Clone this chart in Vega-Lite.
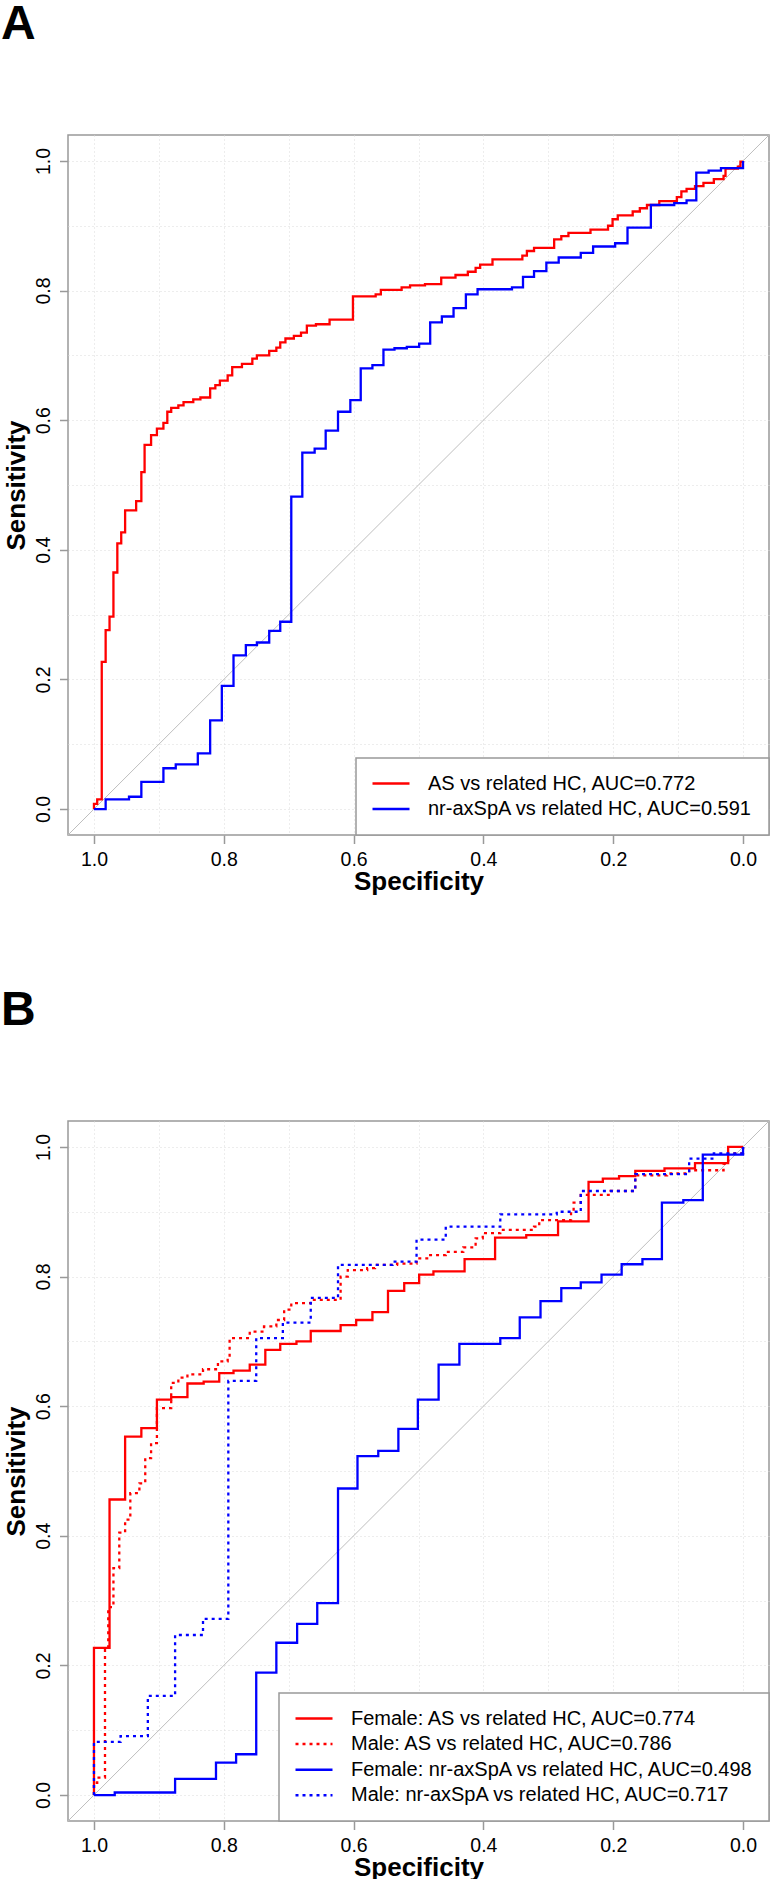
{
"$schema": "https://vega.github.io/schema/vega-lite/v6.json",
"padding": 0,
"autosize": {"type": "pad"},
"background": "white",
"spacing": 91,
"resolve": {"scale": {"color": "independent", "strokeDash": "independent"}, "legend": {"color": "independent", "strokeDash": "independent"}},
"config": {
  "font": "Liberation Sans",
  "view": {"stroke": "#999999", "strokeWidth": 1.5},
  "axis": {"grid": true, "gridColor": "#DADADA", "gridDash": [1, 3], "gridWidth": 1, "domain": false,
    "tickColor": "#999999", "tickWidth": 1.5, "tickSize": 8.5,
    "tickOpacity": {"condition": {"test": "round(datum.value*10) % 2 == 0", "value": 1}, "value": 0},
    "labelFont": "Liberation Sans", "labelFontSize": 19.5, "labelColor": "black", "labelOverlap": false, "labelFlush": false,
    "titleFont": "Liberation Sans", "titleFontSize": 26, "titleFontWeight": "bold", "titleColor": "black"},
  "legend": {"orient": "bottom-right", "offset": 0, "title": null, "strokeColor": "#999999", "strokeWidth": 1.5, "fillColor": "white",
    "padding": 15, "symbolType": "stroke", "symbolSize": 1369, "symbolStrokeWidth": 2.5, "labelFontSize": 20, "labelFont": "Liberation Sans",
    "labelColor": "black", "labelOffset": 17, "clipHeight": 21, "rowPadding": 4.6, "labelLimit": 600}
},
"datasets": {
  "diag": [{"spec": 1.04, "sens": -0.04}, {"spec": -0.04, "sens": 1.04}],
  "rocA": [
    {"series":"AS vs related HC, AUC=0.772","spec":1,"sens":0},{"series":"AS vs related HC, AUC=0.772","spec":1,"sens":0.008},{"series":"AS vs related HC, AUC=0.772","spec":0.995,"sens":0.008},{"series":"AS vs related HC, AUC=0.772","spec":0.995,"sens":0.015},{"series":"AS vs related HC, AUC=0.772","spec":0.988,"sens":0.015},{"series":"AS vs related HC, AUC=0.772","spec":0.988,"sens":0.227},{"series":"AS vs related HC, AUC=0.772","spec":0.982,"sens":0.227},{"series":"AS vs related HC, AUC=0.772","spec":0.982,"sens":0.276},{"series":"AS vs related HC, AUC=0.772","spec":0.976,"sens":0.276},{"series":"AS vs related HC, AUC=0.772","spec":0.976,"sens":0.297},{"series":"AS vs related HC, AUC=0.772","spec":0.970,"sens":0.297},{"series":"AS vs related HC, AUC=0.772","spec":0.970,"sens":0.365},{"series":"AS vs related HC, AUC=0.772","spec":0.964,"sens":0.365},{"series":"AS vs related HC, AUC=0.772","spec":0.964,"sens":0.41},{"series":"AS vs related HC, AUC=0.772","spec":0.958,"sens":0.41},{"series":"AS vs related HC, AUC=0.772","spec":0.958,"sens":0.427},{"series":"AS vs related HC, AUC=0.772","spec":0.952,"sens":0.427},{"series":"AS vs related HC, AUC=0.772","spec":0.952,"sens":0.461},{"series":"AS vs related HC, AUC=0.772","spec":0.935,"sens":0.461},{"series":"AS vs related HC, AUC=0.772","spec":0.935,"sens":0.475},{"series":"AS vs related HC, AUC=0.772","spec":0.927,"sens":0.475},{"series":"AS vs related HC, AUC=0.772","spec":0.927,"sens":0.52},{"series":"AS vs related HC, AUC=0.772","spec":0.922,"sens":0.52},{"series":"AS vs related HC, AUC=0.772","spec":0.922,"sens":0.562},{"series":"AS vs related HC, AUC=0.772","spec":0.912,"sens":0.562},{"series":"AS vs related HC, AUC=0.772","spec":0.912,"sens":0.577},{"series":"AS vs related HC, AUC=0.772","spec":0.903,"sens":0.577},{"series":"AS vs related HC, AUC=0.772","spec":0.903,"sens":0.587},{"series":"AS vs related HC, AUC=0.772","spec":0.893,"sens":0.587},{"series":"AS vs related HC, AUC=0.772","spec":0.893,"sens":0.596},{"series":"AS vs related HC, AUC=0.772","spec":0.887,"sens":0.596},{"series":"AS vs related HC, AUC=0.772","spec":0.887,"sens":0.613},{"series":"AS vs related HC, AUC=0.772","spec":0.881,"sens":0.613},{"series":"AS vs related HC, AUC=0.772","spec":0.881,"sens":0.619},{"series":"AS vs related HC, AUC=0.772","spec":0.870,"sens":0.619},{"series":"AS vs related HC, AUC=0.772","spec":0.870,"sens":0.623},{"series":"AS vs related HC, AUC=0.772","spec":0.862,"sens":0.623},{"series":"AS vs related HC, AUC=0.772","spec":0.862,"sens":0.628},{"series":"AS vs related HC, AUC=0.772","spec":0.847,"sens":0.628},{"series":"AS vs related HC, AUC=0.772","spec":0.847,"sens":0.632},{"series":"AS vs related HC, AUC=0.772","spec":0.836,"sens":0.632},{"series":"AS vs related HC, AUC=0.772","spec":0.836,"sens":0.635},{"series":"AS vs related HC, AUC=0.772","spec":0.821,"sens":0.635},{"series":"AS vs related HC, AUC=0.772","spec":0.821,"sens":0.649},{"series":"AS vs related HC, AUC=0.772","spec":0.813,"sens":0.649},{"series":"AS vs related HC, AUC=0.772","spec":0.813,"sens":0.654},{"series":"AS vs related HC, AUC=0.772","spec":0.806,"sens":0.654},{"series":"AS vs related HC, AUC=0.772","spec":0.806,"sens":0.661},{"series":"AS vs related HC, AUC=0.772","spec":0.794,"sens":0.661},{"series":"AS vs related HC, AUC=0.772","spec":0.794,"sens":0.669},{"series":"AS vs related HC, AUC=0.772","spec":0.787,"sens":0.669},{"series":"AS vs related HC, AUC=0.772","spec":0.787,"sens":0.682},{"series":"AS vs related HC, AUC=0.772","spec":0.772,"sens":0.682},{"series":"AS vs related HC, AUC=0.772","spec":0.772,"sens":0.687},{"series":"AS vs related HC, AUC=0.772","spec":0.756,"sens":0.687},{"series":"AS vs related HC, AUC=0.772","spec":0.756,"sens":0.695},{"series":"AS vs related HC, AUC=0.772","spec":0.749,"sens":0.695},{"series":"AS vs related HC, AUC=0.772","spec":0.749,"sens":0.70},{"series":"AS vs related HC, AUC=0.772","spec":0.730,"sens":0.70},{"series":"AS vs related HC, AUC=0.772","spec":0.730,"sens":0.707},{"series":"AS vs related HC, AUC=0.772","spec":0.719,"sens":0.707},{"series":"AS vs related HC, AUC=0.772","spec":0.719,"sens":0.712},{"series":"AS vs related HC, AUC=0.772","spec":0.713,"sens":0.712},{"series":"AS vs related HC, AUC=0.772","spec":0.713,"sens":0.72},{"series":"AS vs related HC, AUC=0.772","spec":0.705,"sens":0.72},{"series":"AS vs related HC, AUC=0.772","spec":0.705,"sens":0.726},{"series":"AS vs related HC, AUC=0.772","spec":0.692,"sens":0.726},{"series":"AS vs related HC, AUC=0.772","spec":0.692,"sens":0.73},{"series":"AS vs related HC, AUC=0.772","spec":0.681,"sens":0.73},{"series":"AS vs related HC, AUC=0.772","spec":0.681,"sens":0.735},{"series":"AS vs related HC, AUC=0.772","spec":0.672,"sens":0.735},{"series":"AS vs related HC, AUC=0.772","spec":0.672,"sens":0.746},{"series":"AS vs related HC, AUC=0.772","spec":0.658,"sens":0.746},{"series":"AS vs related HC, AUC=0.772","spec":0.658,"sens":0.748},{"series":"AS vs related HC, AUC=0.772","spec":0.637,"sens":0.748},{"series":"AS vs related HC, AUC=0.772","spec":0.637,"sens":0.755},{"series":"AS vs related HC, AUC=0.772","spec":0.601,"sens":0.755},{"series":"AS vs related HC, AUC=0.772","spec":0.601,"sens":0.791},{"series":"AS vs related HC, AUC=0.772","spec":0.566,"sens":0.791},{"series":"AS vs related HC, AUC=0.772","spec":0.566,"sens":0.794},{"series":"AS vs related HC, AUC=0.772","spec":0.558,"sens":0.794},{"series":"AS vs related HC, AUC=0.772","spec":0.558,"sens":0.801},{"series":"AS vs related HC, AUC=0.772","spec":0.526,"sens":0.801},{"series":"AS vs related HC, AUC=0.772","spec":0.526,"sens":0.805},{"series":"AS vs related HC, AUC=0.772","spec":0.513,"sens":0.805},{"series":"AS vs related HC, AUC=0.772","spec":0.513,"sens":0.808},{"series":"AS vs related HC, AUC=0.772","spec":0.490,"sens":0.808},{"series":"AS vs related HC, AUC=0.772","spec":0.490,"sens":0.81},{"series":"AS vs related HC, AUC=0.772","spec":0.465,"sens":0.81},{"series":"AS vs related HC, AUC=0.772","spec":0.465,"sens":0.82},{"series":"AS vs related HC, AUC=0.772","spec":0.443,"sens":0.82},{"series":"AS vs related HC, AUC=0.772","spec":0.443,"sens":0.824},{"series":"AS vs related HC, AUC=0.772","spec":0.424,"sens":0.824},{"series":"AS vs related HC, AUC=0.772","spec":0.424,"sens":0.829},{"series":"AS vs related HC, AUC=0.772","spec":0.412,"sens":0.829},{"series":"AS vs related HC, AUC=0.772","spec":0.412,"sens":0.835},{"series":"AS vs related HC, AUC=0.772","spec":0.405,"sens":0.835},{"series":"AS vs related HC, AUC=0.772","spec":0.405,"sens":0.84},{"series":"AS vs related HC, AUC=0.772","spec":0.386,"sens":0.84},{"series":"AS vs related HC, AUC=0.772","spec":0.386,"sens":0.848},{"series":"AS vs related HC, AUC=0.772","spec":0.340,"sens":0.848},{"series":"AS vs related HC, AUC=0.772","spec":0.340,"sens":0.854},{"series":"AS vs related HC, AUC=0.772","spec":0.333,"sens":0.854},{"series":"AS vs related HC, AUC=0.772","spec":0.333,"sens":0.861},{"series":"AS vs related HC, AUC=0.772","spec":0.322,"sens":0.861},{"series":"AS vs related HC, AUC=0.772","spec":0.322,"sens":0.866},{"series":"AS vs related HC, AUC=0.772","spec":0.291,"sens":0.866},{"series":"AS vs related HC, AUC=0.772","spec":0.291,"sens":0.879},{"series":"AS vs related HC, AUC=0.772","spec":0.280,"sens":0.879},{"series":"AS vs related HC, AUC=0.772","spec":0.280,"sens":0.884},{"series":"AS vs related HC, AUC=0.772","spec":0.269,"sens":0.884},{"series":"AS vs related HC, AUC=0.772","spec":0.269,"sens":0.889},{"series":"AS vs related HC, AUC=0.772","spec":0.235,"sens":0.889},{"series":"AS vs related HC, AUC=0.772","spec":0.235,"sens":0.894},{"series":"AS vs related HC, AUC=0.772","spec":0.208,"sens":0.894},{"series":"AS vs related HC, AUC=0.772","spec":0.208,"sens":0.90},{"series":"AS vs related HC, AUC=0.772","spec":0.201,"sens":0.90},{"series":"AS vs related HC, AUC=0.772","spec":0.201,"sens":0.91},{"series":"AS vs related HC, AUC=0.772","spec":0.193,"sens":0.91},{"series":"AS vs related HC, AUC=0.772","spec":0.193,"sens":0.916},{"series":"AS vs related HC, AUC=0.772","spec":0.170,"sens":0.916},{"series":"AS vs related HC, AUC=0.772","spec":0.170,"sens":0.922},{"series":"AS vs related HC, AUC=0.772","spec":0.159,"sens":0.922},{"series":"AS vs related HC, AUC=0.772","spec":0.159,"sens":0.927},{"series":"AS vs related HC, AUC=0.772","spec":0.148,"sens":0.927},{"series":"AS vs related HC, AUC=0.772","spec":0.148,"sens":0.932},{"series":"AS vs related HC, AUC=0.772","spec":0.129,"sens":0.932},{"series":"AS vs related HC, AUC=0.772","spec":0.129,"sens":0.938},{"series":"AS vs related HC, AUC=0.772","spec":0.102,"sens":0.938},{"series":"AS vs related HC, AUC=0.772","spec":0.102,"sens":0.944},{"series":"AS vs related HC, AUC=0.772","spec":0.095,"sens":0.944},{"series":"AS vs related HC, AUC=0.772","spec":0.095,"sens":0.953},{"series":"AS vs related HC, AUC=0.772","spec":0.087,"sens":0.953},{"series":"AS vs related HC, AUC=0.772","spec":0.087,"sens":0.957},{"series":"AS vs related HC, AUC=0.772","spec":0.074,"sens":0.957},{"series":"AS vs related HC, AUC=0.772","spec":0.074,"sens":0.961},{"series":"AS vs related HC, AUC=0.772","spec":0.061,"sens":0.961},{"series":"AS vs related HC, AUC=0.772","spec":0.061,"sens":0.966},{"series":"AS vs related HC, AUC=0.772","spec":0.045,"sens":0.966},{"series":"AS vs related HC, AUC=0.772","spec":0.045,"sens":0.972},{"series":"AS vs related HC, AUC=0.772","spec":0.030,"sens":0.972},{"series":"AS vs related HC, AUC=0.772","spec":0.030,"sens":0.977},{"series":"AS vs related HC, AUC=0.772","spec":0.027,"sens":0.977},{"series":"AS vs related HC, AUC=0.772","spec":0.027,"sens":0.988},{"series":"AS vs related HC, AUC=0.772","spec":0.008,"sens":0.988},{"series":"AS vs related HC, AUC=0.772","spec":0.008,"sens":0.991},{"series":"AS vs related HC, AUC=0.772","spec":0.004,"sens":0.991},{"series":"AS vs related HC, AUC=0.772","spec":0.004,"sens":0.999},{"series":"AS vs related HC, AUC=0.772","spec":0,"sens":0.999},{"series":"AS vs related HC, AUC=0.772","spec":0,"sens":1},
    {"series":"nr-axSpA vs related HC, AUC=0.591","spec":1,"sens":0},{"series":"nr-axSpA vs related HC, AUC=0.591","spec":0.982,"sens":0},{"series":"nr-axSpA vs related HC, AUC=0.591","spec":0.982,"sens":0.015},{"series":"nr-axSpA vs related HC, AUC=0.591","spec":0.946,"sens":0.015},{"series":"nr-axSpA vs related HC, AUC=0.591","spec":0.946,"sens":0.019},{"series":"nr-axSpA vs related HC, AUC=0.591","spec":0.927,"sens":0.019},{"series":"nr-axSpA vs related HC, AUC=0.591","spec":0.927,"sens":0.042},{"series":"nr-axSpA vs related HC, AUC=0.591","spec":0.893,"sens":0.042},{"series":"nr-axSpA vs related HC, AUC=0.591","spec":0.893,"sens":0.063},{"series":"nr-axSpA vs related HC, AUC=0.591","spec":0.874,"sens":0.063},{"series":"nr-axSpA vs related HC, AUC=0.591","spec":0.874,"sens":0.069},{"series":"nr-axSpA vs related HC, AUC=0.591","spec":0.84,"sens":0.069},{"series":"nr-axSpA vs related HC, AUC=0.591","spec":0.84,"sens":0.086},{"series":"nr-axSpA vs related HC, AUC=0.591","spec":0.821,"sens":0.086},{"series":"nr-axSpA vs related HC, AUC=0.591","spec":0.821,"sens":0.137},{"series":"nr-axSpA vs related HC, AUC=0.591","spec":0.803,"sens":0.137},{"series":"nr-axSpA vs related HC, AUC=0.591","spec":0.803,"sens":0.19},{"series":"nr-axSpA vs related HC, AUC=0.591","spec":0.785,"sens":0.19},{"series":"nr-axSpA vs related HC, AUC=0.591","spec":0.785,"sens":0.237},{"series":"nr-axSpA vs related HC, AUC=0.591","spec":0.766,"sens":0.237},{"series":"nr-axSpA vs related HC, AUC=0.591","spec":0.766,"sens":0.253},{"series":"nr-axSpA vs related HC, AUC=0.591","spec":0.749,"sens":0.253},{"series":"nr-axSpA vs related HC, AUC=0.591","spec":0.749,"sens":0.257},{"series":"nr-axSpA vs related HC, AUC=0.591","spec":0.73,"sens":0.257},{"series":"nr-axSpA vs related HC, AUC=0.591","spec":0.73,"sens":0.275},{"series":"nr-axSpA vs related HC, AUC=0.591","spec":0.713,"sens":0.275},{"series":"nr-axSpA vs related HC, AUC=0.591","spec":0.713,"sens":0.289},{"series":"nr-axSpA vs related HC, AUC=0.591","spec":0.696,"sens":0.289},{"series":"nr-axSpA vs related HC, AUC=0.591","spec":0.696,"sens":0.482},{"series":"nr-axSpA vs related HC, AUC=0.591","spec":0.679,"sens":0.482},{"series":"nr-axSpA vs related HC, AUC=0.591","spec":0.679,"sens":0.55},{"series":"nr-axSpA vs related HC, AUC=0.591","spec":0.66,"sens":0.55},{"series":"nr-axSpA vs related HC, AUC=0.591","spec":0.66,"sens":0.556},{"series":"nr-axSpA vs related HC, AUC=0.591","spec":0.643,"sens":0.556},{"series":"nr-axSpA vs related HC, AUC=0.591","spec":0.643,"sens":0.584},{"series":"nr-axSpA vs related HC, AUC=0.591","spec":0.624,"sens":0.584},{"series":"nr-axSpA vs related HC, AUC=0.591","spec":0.624,"sens":0.613},{"series":"nr-axSpA vs related HC, AUC=0.591","spec":0.605,"sens":0.613},{"series":"nr-axSpA vs related HC, AUC=0.591","spec":0.605,"sens":0.631},{"series":"nr-axSpA vs related HC, AUC=0.591","spec":0.589,"sens":0.631},{"series":"nr-axSpA vs related HC, AUC=0.591","spec":0.589,"sens":0.68},{"series":"nr-axSpA vs related HC, AUC=0.591","spec":0.571,"sens":0.68},{"series":"nr-axSpA vs related HC, AUC=0.591","spec":0.571,"sens":0.685},{"series":"nr-axSpA vs related HC, AUC=0.591","spec":0.554,"sens":0.685},{"series":"nr-axSpA vs related HC, AUC=0.591","spec":0.554,"sens":0.709},{"series":"nr-axSpA vs related HC, AUC=0.591","spec":0.537,"sens":0.709},{"series":"nr-axSpA vs related HC, AUC=0.591","spec":0.537,"sens":0.711},{"series":"nr-axSpA vs related HC, AUC=0.591","spec":0.518,"sens":0.711},{"series":"nr-axSpA vs related HC, AUC=0.591","spec":0.518,"sens":0.713},{"series":"nr-axSpA vs related HC, AUC=0.591","spec":0.499,"sens":0.713},{"series":"nr-axSpA vs related HC, AUC=0.591","spec":0.499,"sens":0.718},{"series":"nr-axSpA vs related HC, AUC=0.591","spec":0.482,"sens":0.718},{"series":"nr-axSpA vs related HC, AUC=0.591","spec":0.482,"sens":0.751},{"series":"nr-axSpA vs related HC, AUC=0.591","spec":0.464,"sens":0.751},{"series":"nr-axSpA vs related HC, AUC=0.591","spec":0.464,"sens":0.76},{"series":"nr-axSpA vs related HC, AUC=0.591","spec":0.446,"sens":0.76},{"series":"nr-axSpA vs related HC, AUC=0.591","spec":0.446,"sens":0.773},{"series":"nr-axSpA vs related HC, AUC=0.591","spec":0.427,"sens":0.773},{"series":"nr-axSpA vs related HC, AUC=0.591","spec":0.427,"sens":0.794},{"series":"nr-axSpA vs related HC, AUC=0.591","spec":0.409,"sens":0.794},{"series":"nr-axSpA vs related HC, AUC=0.591","spec":0.409,"sens":0.802},{"series":"nr-axSpA vs related HC, AUC=0.591","spec":0.356,"sens":0.802},{"series":"nr-axSpA vs related HC, AUC=0.591","spec":0.356,"sens":0.805},{"series":"nr-axSpA vs related HC, AUC=0.591","spec":0.339,"sens":0.805},{"series":"nr-axSpA vs related HC, AUC=0.591","spec":0.339,"sens":0.821},{"series":"nr-axSpA vs related HC, AUC=0.591","spec":0.322,"sens":0.821},{"series":"nr-axSpA vs related HC, AUC=0.591","spec":0.322,"sens":0.83},{"series":"nr-axSpA vs related HC, AUC=0.591","spec":0.303,"sens":0.83},{"series":"nr-axSpA vs related HC, AUC=0.591","spec":0.303,"sens":0.843},{"series":"nr-axSpA vs related HC, AUC=0.591","spec":0.284,"sens":0.843},{"series":"nr-axSpA vs related HC, AUC=0.591","spec":0.284,"sens":0.851},{"series":"nr-axSpA vs related HC, AUC=0.591","spec":0.25,"sens":0.851},{"series":"nr-axSpA vs related HC, AUC=0.591","spec":0.25,"sens":0.858},{"series":"nr-axSpA vs related HC, AUC=0.591","spec":0.231,"sens":0.858},{"series":"nr-axSpA vs related HC, AUC=0.591","spec":0.231,"sens":0.868},{"series":"nr-axSpA vs related HC, AUC=0.591","spec":0.197,"sens":0.868},{"series":"nr-axSpA vs related HC, AUC=0.591","spec":0.197,"sens":0.873},{"series":"nr-axSpA vs related HC, AUC=0.591","spec":0.178,"sens":0.873},{"series":"nr-axSpA vs related HC, AUC=0.591","spec":0.178,"sens":0.897},{"series":"nr-axSpA vs related HC, AUC=0.591","spec":0.142,"sens":0.897},{"series":"nr-axSpA vs related HC, AUC=0.591","spec":0.142,"sens":0.932},{"series":"nr-axSpA vs related HC, AUC=0.591","spec":0.106,"sens":0.932},{"series":"nr-axSpA vs related HC, AUC=0.591","spec":0.106,"sens":0.935},{"series":"nr-axSpA vs related HC, AUC=0.591","spec":0.087,"sens":0.935},{"series":"nr-axSpA vs related HC, AUC=0.591","spec":0.087,"sens":0.939},{"series":"nr-axSpA vs related HC, AUC=0.591","spec":0.072,"sens":0.939},{"series":"nr-axSpA vs related HC, AUC=0.591","spec":0.072,"sens":0.982},{"series":"nr-axSpA vs related HC, AUC=0.591","spec":0.053,"sens":0.982},{"series":"nr-axSpA vs related HC, AUC=0.591","spec":0.053,"sens":0.985},{"series":"nr-axSpA vs related HC, AUC=0.591","spec":0.034,"sens":0.985},{"series":"nr-axSpA vs related HC, AUC=0.591","spec":0.034,"sens":0.989},{"series":"nr-axSpA vs related HC, AUC=0.591","spec":0,"sens":0.989},{"series":"nr-axSpA vs related HC, AUC=0.591","spec":0,"sens":1}
  ],
  "rocB": [
    {"series":"Female: AS vs related HC, AUC=0.774","spec":1,"sens":0},{"series":"Female: AS vs related HC, AUC=0.774","spec":1,"sens":0.227},{"series":"Female: AS vs related HC, AUC=0.774","spec":0.976,"sens":0.227},{"series":"Female: AS vs related HC, AUC=0.774","spec":0.976,"sens":0.456},{"series":"Female: AS vs related HC, AUC=0.774","spec":0.952,"sens":0.456},{"series":"Female: AS vs related HC, AUC=0.774","spec":0.952,"sens":0.553},{"series":"Female: AS vs related HC, AUC=0.774","spec":0.927,"sens":0.553},{"series":"Female: AS vs related HC, AUC=0.774","spec":0.927,"sens":0.566},{"series":"Female: AS vs related HC, AUC=0.774","spec":0.903,"sens":0.566},{"series":"Female: AS vs related HC, AUC=0.774","spec":0.903,"sens":0.61},{"series":"Female: AS vs related HC, AUC=0.774","spec":0.881,"sens":0.61},{"series":"Female: AS vs related HC, AUC=0.774","spec":0.881,"sens":0.614},{"series":"Female: AS vs related HC, AUC=0.774","spec":0.856,"sens":0.614},{"series":"Female: AS vs related HC, AUC=0.774","spec":0.856,"sens":0.635},{"series":"Female: AS vs related HC, AUC=0.774","spec":0.831,"sens":0.635},{"series":"Female: AS vs related HC, AUC=0.774","spec":0.831,"sens":0.638},{"series":"Female: AS vs related HC, AUC=0.774","spec":0.807,"sens":0.638},{"series":"Female: AS vs related HC, AUC=0.774","spec":0.807,"sens":0.651},{"series":"Female: AS vs related HC, AUC=0.774","spec":0.785,"sens":0.651},{"series":"Female: AS vs related HC, AUC=0.774","spec":0.785,"sens":0.655},{"series":"Female: AS vs related HC, AUC=0.774","spec":0.76,"sens":0.655},{"series":"Female: AS vs related HC, AUC=0.774","spec":0.76,"sens":0.664},{"series":"Female: AS vs related HC, AUC=0.774","spec":0.736,"sens":0.664},{"series":"Female: AS vs related HC, AUC=0.774","spec":0.736,"sens":0.687},{"series":"Female: AS vs related HC, AUC=0.774","spec":0.713,"sens":0.687},{"series":"Female: AS vs related HC, AUC=0.774","spec":0.713,"sens":0.696},{"series":"Female: AS vs related HC, AUC=0.774","spec":0.688,"sens":0.696},{"series":"Female: AS vs related HC, AUC=0.774","spec":0.688,"sens":0.70},{"series":"Female: AS vs related HC, AUC=0.774","spec":0.666,"sens":0.70},{"series":"Female: AS vs related HC, AUC=0.774","spec":0.666,"sens":0.716},{"series":"Female: AS vs related HC, AUC=0.774","spec":0.62,"sens":0.716},{"series":"Female: AS vs related HC, AUC=0.774","spec":0.62,"sens":0.725},{"series":"Female: AS vs related HC, AUC=0.774","spec":0.596,"sens":0.725},{"series":"Female: AS vs related HC, AUC=0.774","spec":0.596,"sens":0.733},{"series":"Female: AS vs related HC, AUC=0.774","spec":0.571,"sens":0.733},{"series":"Female: AS vs related HC, AUC=0.774","spec":0.571,"sens":0.745},{"series":"Female: AS vs related HC, AUC=0.774","spec":0.547,"sens":0.745},{"series":"Female: AS vs related HC, AUC=0.774","spec":0.547,"sens":0.778},{"series":"Female: AS vs related HC, AUC=0.774","spec":0.522,"sens":0.778},{"series":"Female: AS vs related HC, AUC=0.774","spec":0.522,"sens":0.79},{"series":"Female: AS vs related HC, AUC=0.774","spec":0.499,"sens":0.79},{"series":"Female: AS vs related HC, AUC=0.774","spec":0.499,"sens":0.803},{"series":"Female: AS vs related HC, AUC=0.774","spec":0.477,"sens":0.803},{"series":"Female: AS vs related HC, AUC=0.774","spec":0.477,"sens":0.808},{"series":"Female: AS vs related HC, AUC=0.774","spec":0.429,"sens":0.808},{"series":"Female: AS vs related HC, AUC=0.774","spec":0.429,"sens":0.827},{"series":"Female: AS vs related HC, AUC=0.774","spec":0.382,"sens":0.827},{"series":"Female: AS vs related HC, AUC=0.774","spec":0.382,"sens":0.86},{"series":"Female: AS vs related HC, AUC=0.774","spec":0.334,"sens":0.86},{"series":"Female: AS vs related HC, AUC=0.774","spec":0.334,"sens":0.864},{"series":"Female: AS vs related HC, AUC=0.774","spec":0.285,"sens":0.864},{"series":"Female: AS vs related HC, AUC=0.774","spec":0.285,"sens":0.885},{"series":"Female: AS vs related HC, AUC=0.774","spec":0.238,"sens":0.885},{"series":"Female: AS vs related HC, AUC=0.774","spec":0.238,"sens":0.946},{"series":"Female: AS vs related HC, AUC=0.774","spec":0.216,"sens":0.946},{"series":"Female: AS vs related HC, AUC=0.774","spec":0.216,"sens":0.951},{"series":"Female: AS vs related HC, AUC=0.774","spec":0.191,"sens":0.951},{"series":"Female: AS vs related HC, AUC=0.774","spec":0.191,"sens":0.955},{"series":"Female: AS vs related HC, AUC=0.774","spec":0.166,"sens":0.955},{"series":"Female: AS vs related HC, AUC=0.774","spec":0.166,"sens":0.963},{"series":"Female: AS vs related HC, AUC=0.774","spec":0.121,"sens":0.963},{"series":"Female: AS vs related HC, AUC=0.774","spec":0.121,"sens":0.967},{"series":"Female: AS vs related HC, AUC=0.774","spec":0.074,"sens":0.967},{"series":"Female: AS vs related HC, AUC=0.774","spec":0.074,"sens":0.975},{"series":"Female: AS vs related HC, AUC=0.774","spec":0.023,"sens":0.975},{"series":"Female: AS vs related HC, AUC=0.774","spec":0.023,"sens":1},{"series":"Female: AS vs related HC, AUC=0.774","spec":0,"sens":1},
    {"series":"Male: AS vs related HC, AUC=0.786","spec":1,"sens":0},{"series":"Male: AS vs related HC, AUC=0.786","spec":1,"sens":0.019},{"series":"Male: AS vs related HC, AUC=0.786","spec":0.995,"sens":0.019},{"series":"Male: AS vs related HC, AUC=0.786","spec":0.995,"sens":0.027},{"series":"Male: AS vs related HC, AUC=0.786","spec":0.983,"sens":0.027},{"series":"Male: AS vs related HC, AUC=0.786","spec":0.983,"sens":0.227},{"series":"Male: AS vs related HC, AUC=0.786","spec":0.978,"sens":0.227},{"series":"Male: AS vs related HC, AUC=0.786","spec":0.978,"sens":0.29},{"series":"Male: AS vs related HC, AUC=0.786","spec":0.97,"sens":0.29},{"series":"Male: AS vs related HC, AUC=0.786","spec":0.97,"sens":0.35},{"series":"Male: AS vs related HC, AUC=0.786","spec":0.961,"sens":0.35},{"series":"Male: AS vs related HC, AUC=0.786","spec":0.961,"sens":0.405},{"series":"Male: AS vs related HC, AUC=0.786","spec":0.952,"sens":0.405},{"series":"Male: AS vs related HC, AUC=0.786","spec":0.952,"sens":0.425},{"series":"Male: AS vs related HC, AUC=0.786","spec":0.944,"sens":0.425},{"series":"Male: AS vs related HC, AUC=0.786","spec":0.944,"sens":0.466},{"series":"Male: AS vs related HC, AUC=0.786","spec":0.93,"sens":0.466},{"series":"Male: AS vs related HC, AUC=0.786","spec":0.93,"sens":0.481},{"series":"Male: AS vs related HC, AUC=0.786","spec":0.921,"sens":0.481},{"series":"Male: AS vs related HC, AUC=0.786","spec":0.921,"sens":0.52},{"series":"Male: AS vs related HC, AUC=0.786","spec":0.912,"sens":0.52},{"series":"Male: AS vs related HC, AUC=0.786","spec":0.912,"sens":0.543},{"series":"Male: AS vs related HC, AUC=0.786","spec":0.903,"sens":0.543},{"series":"Male: AS vs related HC, AUC=0.786","spec":0.903,"sens":0.597},{"series":"Male: AS vs related HC, AUC=0.786","spec":0.881,"sens":0.597},{"series":"Male: AS vs related HC, AUC=0.786","spec":0.881,"sens":0.636},{"series":"Male: AS vs related HC, AUC=0.786","spec":0.87,"sens":0.636},{"series":"Male: AS vs related HC, AUC=0.786","spec":0.87,"sens":0.644},{"series":"Male: AS vs related HC, AUC=0.786","spec":0.856,"sens":0.644},{"series":"Male: AS vs related HC, AUC=0.786","spec":0.856,"sens":0.649},{"series":"Male: AS vs related HC, AUC=0.786","spec":0.832,"sens":0.649},{"series":"Male: AS vs related HC, AUC=0.786","spec":0.832,"sens":0.657},{"series":"Male: AS vs related HC, AUC=0.786","spec":0.809,"sens":0.657},{"series":"Male: AS vs related HC, AUC=0.786","spec":0.809,"sens":0.669},{"series":"Male: AS vs related HC, AUC=0.786","spec":0.794,"sens":0.669},{"series":"Male: AS vs related HC, AUC=0.786","spec":0.794,"sens":0.678},{"series":"Male: AS vs related HC, AUC=0.786","spec":0.791,"sens":0.678},{"series":"Male: AS vs related HC, AUC=0.786","spec":0.791,"sens":0.705},{"series":"Male: AS vs related HC, AUC=0.786","spec":0.76,"sens":0.705},{"series":"Male: AS vs related HC, AUC=0.786","spec":0.76,"sens":0.715},{"series":"Male: AS vs related HC, AUC=0.786","spec":0.738,"sens":0.715},{"series":"Male: AS vs related HC, AUC=0.786","spec":0.738,"sens":0.723},{"series":"Male: AS vs related HC, AUC=0.786","spec":0.719,"sens":0.723},{"series":"Male: AS vs related HC, AUC=0.786","spec":0.719,"sens":0.733},{"series":"Male: AS vs related HC, AUC=0.786","spec":0.707,"sens":0.733},{"series":"Male: AS vs related HC, AUC=0.786","spec":0.707,"sens":0.749},{"series":"Male: AS vs related HC, AUC=0.786","spec":0.696,"sens":0.749},{"series":"Male: AS vs related HC, AUC=0.786","spec":0.696,"sens":0.759},{"series":"Male: AS vs related HC, AUC=0.786","spec":0.664,"sens":0.759},{"series":"Male: AS vs related HC, AUC=0.786","spec":0.664,"sens":0.764},{"series":"Male: AS vs related HC, AUC=0.786","spec":0.62,"sens":0.764},{"series":"Male: AS vs related HC, AUC=0.786","spec":0.62,"sens":0.80},{"series":"Male: AS vs related HC, AUC=0.786","spec":0.609,"sens":0.80},{"series":"Male: AS vs related HC, AUC=0.786","spec":0.609,"sens":0.81},{"series":"Male: AS vs related HC, AUC=0.786","spec":0.579,"sens":0.81},{"series":"Male: AS vs related HC, AUC=0.786","spec":0.579,"sens":0.813},{"series":"Male: AS vs related HC, AUC=0.786","spec":0.567,"sens":0.813},{"series":"Male: AS vs related HC, AUC=0.786","spec":0.567,"sens":0.818},{"series":"Male: AS vs related HC, AUC=0.786","spec":0.533,"sens":0.818},{"series":"Male: AS vs related HC, AUC=0.786","spec":0.533,"sens":0.82},{"series":"Male: AS vs related HC, AUC=0.786","spec":0.503,"sens":0.82},{"series":"Male: AS vs related HC, AUC=0.786","spec":0.503,"sens":0.828},{"series":"Male: AS vs related HC, AUC=0.786","spec":0.484,"sens":0.828},{"series":"Male: AS vs related HC, AUC=0.786","spec":0.484,"sens":0.833},{"series":"Male: AS vs related HC, AUC=0.786","spec":0.458,"sens":0.833},{"series":"Male: AS vs related HC, AUC=0.786","spec":0.458,"sens":0.838},{"series":"Male: AS vs related HC, AUC=0.786","spec":0.431,"sens":0.838},{"series":"Male: AS vs related HC, AUC=0.786","spec":0.431,"sens":0.845},{"series":"Male: AS vs related HC, AUC=0.786","spec":0.412,"sens":0.845},{"series":"Male: AS vs related HC, AUC=0.786","spec":0.412,"sens":0.859},{"series":"Male: AS vs related HC, AUC=0.786","spec":0.401,"sens":0.859},{"series":"Male: AS vs related HC, AUC=0.786","spec":0.401,"sens":0.867},{"series":"Male: AS vs related HC, AUC=0.786","spec":0.374,"sens":0.867},{"series":"Male: AS vs related HC, AUC=0.786","spec":0.374,"sens":0.872},{"series":"Male: AS vs related HC, AUC=0.786","spec":0.322,"sens":0.872},{"series":"Male: AS vs related HC, AUC=0.786","spec":0.322,"sens":0.877},{"series":"Male: AS vs related HC, AUC=0.786","spec":0.314,"sens":0.877},{"series":"Male: AS vs related HC, AUC=0.786","spec":0.314,"sens":0.887},{"series":"Male: AS vs related HC, AUC=0.786","spec":0.265,"sens":0.887},{"series":"Male: AS vs related HC, AUC=0.786","spec":0.265,"sens":0.90},{"series":"Male: AS vs related HC, AUC=0.786","spec":0.261,"sens":0.90},{"series":"Male: AS vs related HC, AUC=0.786","spec":0.261,"sens":0.914},{"series":"Male: AS vs related HC, AUC=0.786","spec":0.25,"sens":0.914},{"series":"Male: AS vs related HC, AUC=0.786","spec":0.25,"sens":0.926},{"series":"Male: AS vs related HC, AUC=0.786","spec":0.204,"sens":0.926},{"series":"Male: AS vs related HC, AUC=0.786","spec":0.204,"sens":0.932},{"series":"Male: AS vs related HC, AUC=0.786","spec":0.166,"sens":0.932},{"series":"Male: AS vs related HC, AUC=0.786","spec":0.166,"sens":0.956},{"series":"Male: AS vs related HC, AUC=0.786","spec":0.117,"sens":0.956},{"series":"Male: AS vs related HC, AUC=0.786","spec":0.117,"sens":0.959},{"series":"Male: AS vs related HC, AUC=0.786","spec":0.083,"sens":0.959},{"series":"Male: AS vs related HC, AUC=0.786","spec":0.083,"sens":0.964},{"series":"Male: AS vs related HC, AUC=0.786","spec":0.03,"sens":0.964},{"series":"Male: AS vs related HC, AUC=0.786","spec":0.03,"sens":0.974},{"series":"Male: AS vs related HC, AUC=0.786","spec":0.023,"sens":0.974},{"series":"Male: AS vs related HC, AUC=0.786","spec":0.023,"sens":0.99},{"series":"Male: AS vs related HC, AUC=0.786","spec":0,"sens":0.99},{"series":"Male: AS vs related HC, AUC=0.786","spec":0,"sens":1},
    {"series":"Female: nr-axSpA vs related HC, AUC=0.498","spec":1,"sens":0},{"series":"Female: nr-axSpA vs related HC, AUC=0.498","spec":0.968,"sens":0},{"series":"Female: nr-axSpA vs related HC, AUC=0.498","spec":0.968,"sens":0.004},{"series":"Female: nr-axSpA vs related HC, AUC=0.498","spec":0.875,"sens":0.004},{"series":"Female: nr-axSpA vs related HC, AUC=0.498","spec":0.875,"sens":0.025},{"series":"Female: nr-axSpA vs related HC, AUC=0.498","spec":0.812,"sens":0.025},{"series":"Female: nr-axSpA vs related HC, AUC=0.498","spec":0.812,"sens":0.05},{"series":"Female: nr-axSpA vs related HC, AUC=0.498","spec":0.781,"sens":0.05},{"series":"Female: nr-axSpA vs related HC, AUC=0.498","spec":0.781,"sens":0.063},{"series":"Female: nr-axSpA vs related HC, AUC=0.498","spec":0.75,"sens":0.063},{"series":"Female: nr-axSpA vs related HC, AUC=0.498","spec":0.75,"sens":0.189},{"series":"Female: nr-axSpA vs related HC, AUC=0.498","spec":0.719,"sens":0.189},{"series":"Female: nr-axSpA vs related HC, AUC=0.498","spec":0.719,"sens":0.235},{"series":"Female: nr-axSpA vs related HC, AUC=0.498","spec":0.687,"sens":0.235},{"series":"Female: nr-axSpA vs related HC, AUC=0.498","spec":0.687,"sens":0.264},{"series":"Female: nr-axSpA vs related HC, AUC=0.498","spec":0.656,"sens":0.264},{"series":"Female: nr-axSpA vs related HC, AUC=0.498","spec":0.656,"sens":0.296},{"series":"Female: nr-axSpA vs related HC, AUC=0.498","spec":0.624,"sens":0.296},{"series":"Female: nr-axSpA vs related HC, AUC=0.498","spec":0.624,"sens":0.473},{"series":"Female: nr-axSpA vs related HC, AUC=0.498","spec":0.594,"sens":0.473},{"series":"Female: nr-axSpA vs related HC, AUC=0.498","spec":0.594,"sens":0.523},{"series":"Female: nr-axSpA vs related HC, AUC=0.498","spec":0.562,"sens":0.523},{"series":"Female: nr-axSpA vs related HC, AUC=0.498","spec":0.562,"sens":0.531},{"series":"Female: nr-axSpA vs related HC, AUC=0.498","spec":0.531,"sens":0.531},{"series":"Female: nr-axSpA vs related HC, AUC=0.498","spec":0.531,"sens":0.565},{"series":"Female: nr-axSpA vs related HC, AUC=0.498","spec":0.501,"sens":0.565},{"series":"Female: nr-axSpA vs related HC, AUC=0.498","spec":0.501,"sens":0.61},{"series":"Female: nr-axSpA vs related HC, AUC=0.498","spec":0.469,"sens":0.61},{"series":"Female: nr-axSpA vs related HC, AUC=0.498","spec":0.469,"sens":0.664},{"series":"Female: nr-axSpA vs related HC, AUC=0.498","spec":0.437,"sens":0.664},{"series":"Female: nr-axSpA vs related HC, AUC=0.498","spec":0.437,"sens":0.696},{"series":"Female: nr-axSpA vs related HC, AUC=0.498","spec":0.374,"sens":0.696},{"series":"Female: nr-axSpA vs related HC, AUC=0.498","spec":0.374,"sens":0.705},{"series":"Female: nr-axSpA vs related HC, AUC=0.498","spec":0.344,"sens":0.705},{"series":"Female: nr-axSpA vs related HC, AUC=0.498","spec":0.344,"sens":0.737},{"series":"Female: nr-axSpA vs related HC, AUC=0.498","spec":0.312,"sens":0.737},{"series":"Female: nr-axSpA vs related HC, AUC=0.498","spec":0.312,"sens":0.762},{"series":"Female: nr-axSpA vs related HC, AUC=0.498","spec":0.28,"sens":0.762},{"series":"Female: nr-axSpA vs related HC, AUC=0.498","spec":0.28,"sens":0.782},{"series":"Female: nr-axSpA vs related HC, AUC=0.498","spec":0.25,"sens":0.782},{"series":"Female: nr-axSpA vs related HC, AUC=0.498","spec":0.25,"sens":0.791},{"series":"Female: nr-axSpA vs related HC, AUC=0.498","spec":0.218,"sens":0.791},{"series":"Female: nr-axSpA vs related HC, AUC=0.498","spec":0.218,"sens":0.803},{"series":"Female: nr-axSpA vs related HC, AUC=0.498","spec":0.187,"sens":0.803},{"series":"Female: nr-axSpA vs related HC, AUC=0.498","spec":0.187,"sens":0.819},{"series":"Female: nr-axSpA vs related HC, AUC=0.498","spec":0.155,"sens":0.819},{"series":"Female: nr-axSpA vs related HC, AUC=0.498","spec":0.155,"sens":0.827},{"series":"Female: nr-axSpA vs related HC, AUC=0.498","spec":0.125,"sens":0.827},{"series":"Female: nr-axSpA vs related HC, AUC=0.498","spec":0.125,"sens":0.914},{"series":"Female: nr-axSpA vs related HC, AUC=0.498","spec":0.092,"sens":0.914},{"series":"Female: nr-axSpA vs related HC, AUC=0.498","spec":0.092,"sens":0.918},{"series":"Female: nr-axSpA vs related HC, AUC=0.498","spec":0.062,"sens":0.918},{"series":"Female: nr-axSpA vs related HC, AUC=0.498","spec":0.062,"sens":0.988},{"series":"Female: nr-axSpA vs related HC, AUC=0.498","spec":0,"sens":0.988},{"series":"Female: nr-axSpA vs related HC, AUC=0.498","spec":0,"sens":1},
    {"series":"Male: nr-axSpA vs related HC, AUC=0.717","spec":1,"sens":0},{"series":"Male: nr-axSpA vs related HC, AUC=0.717","spec":1,"sens":0.082},{"series":"Male: nr-axSpA vs related HC, AUC=0.717","spec":0.959,"sens":0.082},{"series":"Male: nr-axSpA vs related HC, AUC=0.717","spec":0.959,"sens":0.091},{"series":"Male: nr-axSpA vs related HC, AUC=0.717","spec":0.917,"sens":0.091},{"series":"Male: nr-axSpA vs related HC, AUC=0.717","spec":0.917,"sens":0.153},{"series":"Male: nr-axSpA vs related HC, AUC=0.717","spec":0.875,"sens":0.153},{"series":"Male: nr-axSpA vs related HC, AUC=0.717","spec":0.875,"sens":0.247},{"series":"Male: nr-axSpA vs related HC, AUC=0.717","spec":0.832,"sens":0.247},{"series":"Male: nr-axSpA vs related HC, AUC=0.717","spec":0.832,"sens":0.272},{"series":"Male: nr-axSpA vs related HC, AUC=0.717","spec":0.793,"sens":0.272},{"series":"Male: nr-axSpA vs related HC, AUC=0.717","spec":0.793,"sens":0.639},{"series":"Male: nr-axSpA vs related HC, AUC=0.717","spec":0.75,"sens":0.639},{"series":"Male: nr-axSpA vs related HC, AUC=0.717","spec":0.75,"sens":0.705},{"series":"Male: nr-axSpA vs related HC, AUC=0.717","spec":0.709,"sens":0.705},{"series":"Male: nr-axSpA vs related HC, AUC=0.717","spec":0.709,"sens":0.729},{"series":"Male: nr-axSpA vs related HC, AUC=0.717","spec":0.666,"sens":0.729},{"series":"Male: nr-axSpA vs related HC, AUC=0.717","spec":0.666,"sens":0.767},{"series":"Male: nr-axSpA vs related HC, AUC=0.717","spec":0.624,"sens":0.767},{"series":"Male: nr-axSpA vs related HC, AUC=0.717","spec":0.624,"sens":0.818},{"series":"Male: nr-axSpA vs related HC, AUC=0.717","spec":0.54,"sens":0.818},{"series":"Male: nr-axSpA vs related HC, AUC=0.717","spec":0.54,"sens":0.823},{"series":"Male: nr-axSpA vs related HC, AUC=0.717","spec":0.503,"sens":0.823},{"series":"Male: nr-axSpA vs related HC, AUC=0.717","spec":0.503,"sens":0.857},{"series":"Male: nr-axSpA vs related HC, AUC=0.717","spec":0.458,"sens":0.857},{"series":"Male: nr-axSpA vs related HC, AUC=0.717","spec":0.458,"sens":0.877},{"series":"Male: nr-axSpA vs related HC, AUC=0.717","spec":0.374,"sens":0.877},{"series":"Male: nr-axSpA vs related HC, AUC=0.717","spec":0.374,"sens":0.896},{"series":"Male: nr-axSpA vs related HC, AUC=0.717","spec":0.287,"sens":0.896},{"series":"Male: nr-axSpA vs related HC, AUC=0.717","spec":0.287,"sens":0.90},{"series":"Male: nr-axSpA vs related HC, AUC=0.717","spec":0.25,"sens":0.90},{"series":"Male: nr-axSpA vs related HC, AUC=0.717","spec":0.25,"sens":0.932},{"series":"Male: nr-axSpA vs related HC, AUC=0.717","spec":0.166,"sens":0.932},{"series":"Male: nr-axSpA vs related HC, AUC=0.717","spec":0.166,"sens":0.958},{"series":"Male: nr-axSpA vs related HC, AUC=0.717","spec":0.083,"sens":0.958},{"series":"Male: nr-axSpA vs related HC, AUC=0.717","spec":0.083,"sens":0.982},{"series":"Male: nr-axSpA vs related HC, AUC=0.717","spec":0.045,"sens":0.982},{"series":"Male: nr-axSpA vs related HC, AUC=0.717","spec":0.045,"sens":0.99},{"series":"Male: nr-axSpA vs related HC, AUC=0.717","spec":0,"sens":0.99},{"series":"Male: nr-axSpA vs related HC, AUC=0.717","spec":0,"sens":1}
  ]
},
"vconcat": [
  {
    "width": 701, "height": 700,
    "title": {"text": "A", "anchor": "start", "frame": "group", "dx": -67, "offset": 48, "fontSize": 48, "fontWeight": "bold", "baseline": "alphabetic", "color": "black", "font": "Liberation Sans"},
    "encoding": {
      "x": {"field": "spec", "type": "quantitative", "scale": {"domain": [-0.04, 1.04], "reverse": true, "nice": false, "zero": false},
        "axis": {"values": [0,0.1,0.2,0.3,0.4,0.5,0.6,0.7,0.8,0.9,1], "labelExpr": "round(datum.value*10) % 2 == 0 ? format(datum.value, '.1f') : ''", "labelAngle": 0, "labelBaseline": "top", "labelPadding": 7, "title": "Specificity", "titlePadding": -1}},
      "y": {"field": "sens", "type": "quantitative", "scale": {"domain": [-0.04, 1.04], "nice": false, "zero": false},
        "axis": {"values": [0,0.1,0.2,0.3,0.4,0.5,0.6,0.7,0.8,0.9,1], "labelExpr": "round(datum.value*10) % 2 == 0 ? format(datum.value, '.1f') : ''", "labelAngle": 270, "labelAlign": "center", "labelBaseline": "alphabetic", "labelPadding": 10, "title": "Sensitivity", "titleBaseline": "alphabetic", "titlePadding": 9}}
    },
    "layer": [
      {"data": {"name": "diag"}, "mark": {"type": "line", "clip": true, "color": "#BEBEBE", "strokeWidth": 1}},
      {"data": {"name": "rocA"}, "mark": {"type": "line", "clip": true, "strokeWidth": 2.3, "strokeJoin": "miter", "strokeCap": "butt"},
        "encoding": {
          "color": {"field": "series", "type": "nominal", "scale": {"domain": ["AS vs related HC, AUC=0.772", "nr-axSpA vs related HC, AUC=0.591"], "range": ["#FF0000", "#0000FF"]}},
          "order": {"value": null}
        }}
    ]
  },
  {
    "width": 701, "height": 700,
    "title": {"text": "B", "anchor": "start", "frame": "group", "dx": -67, "offset": 48, "fontSize": 48, "fontWeight": "bold", "baseline": "alphabetic", "color": "black", "font": "Liberation Sans"},
    "encoding": {
      "x": {"field": "spec", "type": "quantitative", "scale": {"domain": [-0.04, 1.04], "reverse": true, "nice": false, "zero": false},
        "axis": {"values": [0,0.1,0.2,0.3,0.4,0.5,0.6,0.7,0.8,0.9,1], "labelExpr": "round(datum.value*10) % 2 == 0 ? format(datum.value, '.1f') : ''", "labelAngle": 0, "labelBaseline": "top", "labelPadding": 7, "title": "Specificity", "titlePadding": -1}},
      "y": {"field": "sens", "type": "quantitative", "scale": {"domain": [-0.04, 1.04], "nice": false, "zero": false},
        "axis": {"values": [0,0.1,0.2,0.3,0.4,0.5,0.6,0.7,0.8,0.9,1], "labelExpr": "round(datum.value*10) % 2 == 0 ? format(datum.value, '.1f') : ''", "labelAngle": 270, "labelAlign": "center", "labelBaseline": "alphabetic", "labelPadding": 10, "title": "Sensitivity", "titleBaseline": "alphabetic", "titlePadding": 9}}
    },
    "layer": [
      {"data": {"name": "diag"}, "mark": {"type": "line", "clip": true, "color": "#BEBEBE", "strokeWidth": 1}},
      {"data": {"name": "rocB"}, "mark": {"type": "line", "clip": true, "strokeWidth": 2.3, "strokeJoin": "miter", "strokeCap": "butt"},
        "encoding": {
          "color": {"field": "series", "type": "nominal", "scale": {"domain": ["Female: AS vs related HC, AUC=0.774", "Male: AS vs related HC, AUC=0.786", "Female: nr-axSpA vs related HC, AUC=0.498", "Male: nr-axSpA vs related HC, AUC=0.717"], "range": ["#FF0000", "#FF0000", "#0000FF", "#0000FF"]}},
          "strokeDash": {"field": "series", "type": "nominal", "scale": {"domain": ["Female: AS vs related HC, AUC=0.774", "Male: AS vs related HC, AUC=0.786", "Female: nr-axSpA vs related HC, AUC=0.498", "Male: nr-axSpA vs related HC, AUC=0.717"], "range": [[1, 0], [3, 4], [1, 0], [3, 4]]}},
          "order": {"value": null}
        }}
    ]
  }
]
}
